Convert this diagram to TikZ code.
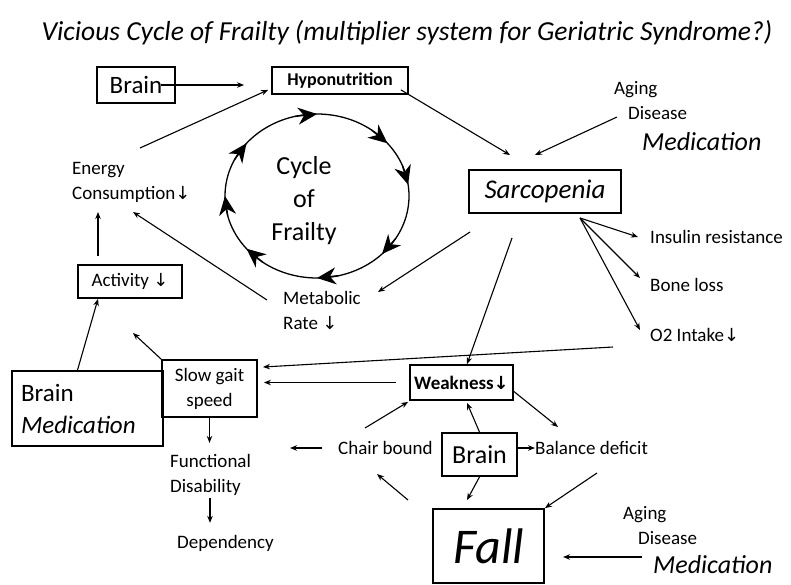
\documentclass[tikz,border=0pt]{standalone}
\usepackage{fontspec}
\setmainfont{Carlito}
\newfontfamily\symf{DejaVu Sans}
\usetikzlibrary{arrows.meta,calc}
\newcommand{\dnarr}{{\symf\fontsize{18}{18}\selectfont ↓}}
\begin{document}
\begin{tikzpicture}[x=1pt,y=-1pt,
  lbl/.style={font=\fontsize{19}{25}\selectfont, inner sep=0pt, align=left},
  bx/.style={draw, line width=1.8pt, inner sep=0pt, align=center},
  arr/.style={line width=1.1pt, -{Stealth[length=7pt,width=5.5pt]}},
  cyc/.style={line width=1.3pt, -{Stealth[length=19pt,width=17pt,inset=6pt]}}
]
\fill[white] (0,0) rectangle (791,584);
\useasboundingbox (0,0) rectangle (791,584);

% title
\node[font=\fontsize{27.5}{30}\selectfont\itshape] (title) at (407,33)
  {Vicious Cycle of Frailty (multiplier system for Geriatric Syndrome?)};

% boxes
\node[bx, minimum width=78pt, minimum height=36pt, font=\fontsize{25}{30}\selectfont] (brainA) at (136,85) {Brain};
\node[bx, minimum width=136pt, minimum height=27pt, font=\fontsize{18}{22}\selectfont\bfseries] (hypo) at (340,80.5) {Hyponutrition};
\node[bx, minimum width=152pt, minimum height=43pt, font=\fontsize{27}{30}\selectfont\itshape] (sarc) at (545,191.5) {Sarcopenia};
\node[bx, minimum width=104pt, minimum height=33pt, font=\fontsize{19}{25}\selectfont] (act) at (130,281.5) {Activity \dnarr};
\node[bx, minimum width=95pt, minimum height=57pt, font=\fontsize{19}{25}\selectfont] (slow) at (209.5,388.5) {Slow gait\\speed};
\node[bx, minimum width=151pt, minimum height=75pt, font=\fontsize{25}{32}\selectfont, align=left, text width=133pt] (brainM) at (87.5,408.5) {Brain\\\textit{Medication}};
\node[bx, minimum width=103pt, minimum height=35pt, font=\fontsize{19}{25}\selectfont\bfseries] (weak) at (461.5,382.5) {Weakness\dnarr};
\node[bx, minimum width=75pt, minimum height=43pt, font=\fontsize{26}{30}\selectfont] (brainB) at (479.5,454.5) {Brain};
\node[bx, minimum width=111pt, minimum height=74pt, font=\fontsize{50}{52}\selectfont\itshape] (fall) at (488.5,546) {Fall};

% labels
\node[lbl, anchor=west] (energy) at (72,182.5) {Energy\\Consumption\dnarr};
\node[font=\fontsize{26}{33}\selectfont, align=center] (cyct) at (304,201) {Cycle\\of\\Frailty};
\node[lbl, anchor=west] (metab) at (283,310.5) {Metabolic\\Rate \dnarr};
\node[lbl, anchor=west] (aging1) at (614,90) {Aging};
\node[lbl, anchor=west] (dis1) at (628,113) {Disease};
\node[lbl, anchor=west, font=\fontsize{26}{30}\selectfont\itshape] (med1) at (642,142) {Medication};
\node[lbl, anchor=west] (ins) at (650,237) {Insulin resistance};
\node[lbl, anchor=west] (bone) at (650,285) {Bone loss};
\node[lbl, anchor=west] (otwo) at (650,335) {O2 Intake\dnarr};
\node[lbl, anchor=west] (chair) at (338,448) {Chair bound};
\node[lbl, anchor=west] (bal) at (535,448) {Balance deficit};
\node[lbl, anchor=west] (func) at (170,475) {Functional\\Disability};
\node[lbl, anchor=west] (dep) at (177,543) {Dependency};
\node[lbl, anchor=west] (aging2) at (623,515) {Aging};
\node[lbl, anchor=west] (dis2) at (638,538) {Disease};
\node[lbl, anchor=west, font=\fontsize{26}{30}\selectfont\itshape] (med2) at (653,565) {Medication};

% cycle
\coordinate (C) at (317,196);
\draw[line width=1.3pt] (C) ellipse[x radius=92pt, y radius=82pt];
\foreach \t in {-90,-40,-8,45,90,140,180,220}
  \draw[cyc] ($(C)+({\t-14}:92 and 82)$) -- ($(C)+(\t:92 and 82)$);

% free-end coordinates
\coordinate (e1) at (140,148);
\coordinate (s1) at (510,155);
\coordinate (s2) at (535,155);
\coordinate (d1) at (617,117);
\coordinate (sw1) at (470,232);
\coordinate (m1) at (378,292);
\coordinate (m2) at (267,300);
\coordinate (e2) at (133,212);
\coordinate (e3) at (98,212);
\coordinate (g1) at (133,333);
\coordinate (o1) at (613,347);
\coordinate (g2) at (263,367);
\coordinate (sp) at (580,218);
\coordinate (i1) at (638,237);
\coordinate (b1) at (640,278);
\coordinate (o2) at (640,330);
\coordinate (sw2) at (512,238);
\coordinate (c1) at (365,428);
\coordinate (b2) at (558,427);
\coordinate (b3) at (597,473);
\coordinate (f1) at (408,500);
\coordinate (f2) at (377,474);
\coordinate (f3) at (467,500);
\coordinate (md) at (642,557);
\coordinate (f4) at (563,557);

% connectors
\draw[arr, shorten <=-15pt, shorten >=27pt] (brainA.east) -- (brainA.east -| hypo.west);
\draw[arr] (e1) -- ([xshift=-3pt,yshift=5pt]hypo.south west);
\draw[arr] ([xshift=-8pt,yshift=5pt]hypo.south east) -- (s1);
\draw[arr] (d1) -- (s2);
\draw[arr] (sw1) -- (m1);
\draw[arr] (m2) -- (e2);
\draw[arr, shorten <=8pt] ([xshift=-32pt]act.north) -- (e3);
\draw[arr] ([xshift=-10pt]brainM.north) -- ([xshift=-32pt]act.south);
\draw[arr] (slow.north west) -- (g1);
\draw[arr] (o1) -- (g2);
\draw[arr, shorten <=13pt, shorten >=6pt] (weak.west) -- (weak.west -| slow.east);
\draw[arr] (sp) -- (i1);
\draw[arr] (sp) -- (b1);
\draw[arr] (sp) -- (o2);
\draw[arr] (sw2) -- ([xshift=5.5pt]weak.north);
\draw[arr] (slow.south) -- ([yshift=-25pt]slow.south);
\draw[arr] ([xshift=40pt,yshift=-2pt]func.south west) -- ([xshift=40pt,yshift=-27pt]func.south west);
\draw[arr] ([xshift=-16pt]chair.west) -- ([xshift=-48pt]chair.west);
\draw[arr] (c1) -- ([xshift=-1pt,yshift=-1pt]weak.south west);
\draw[arr] (brainB.north) -- ([xshift=5.5pt,yshift=-2pt]weak.south);
\draw[arr] ([yshift=-9pt]weak.east) -- (b2);
\draw[arr] (brainB.east |- bal.west) -- (bal.west);
\draw[arr] (brainB.south) -- (f3);
\draw[arr] (b3) -- (fall.north east);
\draw[arr] (f1) -- (f2);
\draw[arr] (md) -- (f4);
\end{tikzpicture}
\end{document}
